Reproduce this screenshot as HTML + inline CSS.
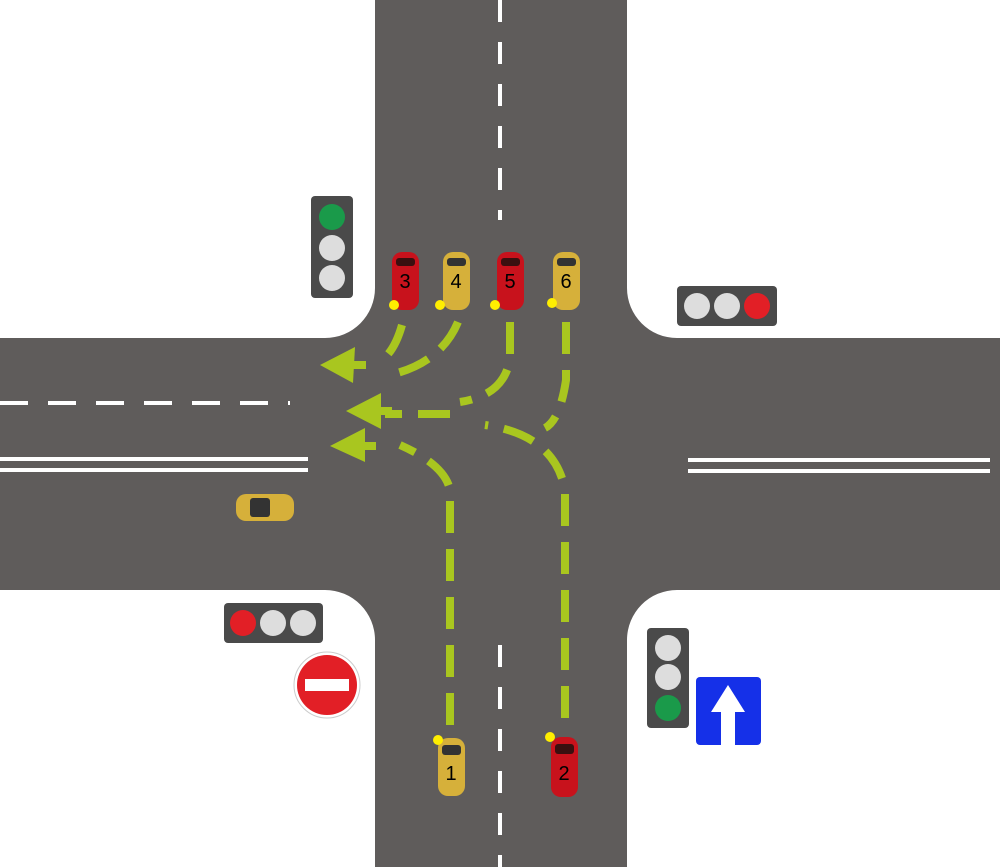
<!DOCTYPE html>
<html><head><style>body{margin:0;background:#fff}svg{display:block}</style></head><body>
<svg width="1000" height="867" viewBox="0 0 1000 867" xmlns="http://www.w3.org/2000/svg" font-family="Liberation Sans, sans-serif">
<rect width="1000" height="867" fill="#fff"/>
<path fill="#5f5c5b" d="M375 0H627V288A50 50 0 0 0 677 338H1000V590H677A50 50 0 0 0 627 640V867H375V640A50 50 0 0 0 325 590H0V338H325A50 50 0 0 0 375 288Z"/>
<g stroke="#fff" stroke-width="4" fill="none">
<line x1="500" y1="0" x2="500" y2="220" stroke-dasharray="22 20"/>
<line x1="500" y1="645" x2="500" y2="867" stroke-dasharray="22 20"/>
<line x1="0" y1="403" x2="290" y2="403" stroke-dasharray="28 20"/>
<line x1="0" y1="459" x2="308" y2="459"/><line x1="0" y1="470" x2="308" y2="470"/>
<line x1="688" y1="460" x2="990" y2="460"/><line x1="688" y1="471" x2="990" y2="471"/>
</g>
<g stroke="#a9c61f" stroke-width="8" fill="none" stroke-dasharray="32 16">
<path d="M402 325Q395 350 382 360"/>
<path d="M458 322Q440 365 385 376"/>
<path d="M510 322V358Q505 395 460 402"/>
<path d="M566 322V380Q560 420 545 428"/>
<path d="M450 725V490Q445 465 400 445"/>
<path d="M565 718V490Q555 435 485 425"/>
<path d="M450 414H385"/>
</g>
<g fill="#a9c61f">
<polygon points="320,365 355,347 353,383"/><rect x="350" y="361" width="16" height="8"/>
<polygon points="346,411 381,393 381,429"/><rect x="378" y="407" width="14" height="8"/>
<polygon points="330,446 365,428 365,462"/><rect x="362" y="442" width="14" height="8"/>
</g>
<g>
<rect x="311" y="196" width="42" height="102" rx="4" fill="#4a4a4a"/>
<circle cx="332" cy="217" r="13" fill="#1a9a4a"/><circle cx="332" cy="248" r="13" fill="#ddd"/><circle cx="332" cy="278" r="13" fill="#ddd"/>
<rect x="677" y="286" width="100" height="40" rx="4" fill="#4a4a4a"/>
<circle cx="697" cy="306" r="13" fill="#ddd"/><circle cx="727" cy="306" r="13" fill="#ddd"/><circle cx="757" cy="306" r="13" fill="#e21f26"/>
<rect x="224" y="603" width="99" height="40" rx="4" fill="#4a4a4a"/>
<circle cx="243" cy="623" r="13" fill="#e21f26"/><circle cx="273" cy="623" r="13" fill="#ddd"/><circle cx="303" cy="623" r="13" fill="#ddd"/>
<rect x="647" y="628" width="42" height="100" rx="4" fill="#4a4a4a"/>
<circle cx="668" cy="648" r="13" fill="#ddd"/><circle cx="668" cy="677" r="13" fill="#ddd"/><circle cx="668" cy="708" r="13" fill="#1a9a4a"/>
</g>
<rect x="696" y="677" width="65" height="68" rx="4" fill="#1530e8"/>
<polygon points="728,685 745,712 735,712 735,745 721,745 721,712 711,712" fill="#fff"/>
<circle cx="327" cy="685" r="33" fill="#fff" stroke="#ccc" stroke-width="1"/>
<circle cx="327" cy="685" r="30" fill="#e21f26"/>
<rect x="305" y="679" width="44" height="12" fill="#fff"/>
<g font-size="20" text-anchor="middle">
<rect x="392" y="252" width="27" height="58" rx="10" fill="#c8121c"/><rect x="396" y="258" width="19" height="8" rx="3" fill="#3a1010"/><text x="405" y="288">3</text>
<rect x="443" y="252" width="27" height="58" rx="10" fill="#d6b03a"/><rect x="447" y="258" width="19" height="8" rx="3" fill="#333"/><text x="456" y="288">4</text>
<rect x="497" y="252" width="27" height="58" rx="10" fill="#c8121c"/><rect x="501" y="258" width="19" height="8" rx="3" fill="#3a1010"/><text x="510" y="288">5</text>
<rect x="553" y="252" width="27" height="58" rx="10" fill="#d6b03a"/><rect x="557" y="258" width="19" height="8" rx="3" fill="#333"/><text x="566" y="288">6</text>
<rect x="438" y="738" width="27" height="58" rx="10" fill="#d6b03a"/><rect x="442" y="745" width="19" height="10" rx="3" fill="#333"/><text x="451" y="780">1</text>
<rect x="551" y="737" width="27" height="60" rx="10" fill="#c8121c"/><rect x="555" y="744" width="19" height="10" rx="3" fill="#3a1010"/><text x="564" y="780">2</text>
<rect x="236" y="494" width="58" height="27" rx="10" fill="#d6b03a"/><rect x="250" y="498" width="20" height="19" rx="3" fill="#333"/>
</g>
<g fill="#ffee00">
<circle cx="394" cy="305" r="5"/><circle cx="440" cy="305" r="5"/><circle cx="495" cy="305" r="5"/><circle cx="552" cy="303" r="5"/>
<circle cx="438" cy="740" r="5"/><circle cx="550" cy="737" r="5"/>
</g>
</svg>
</body></html>
